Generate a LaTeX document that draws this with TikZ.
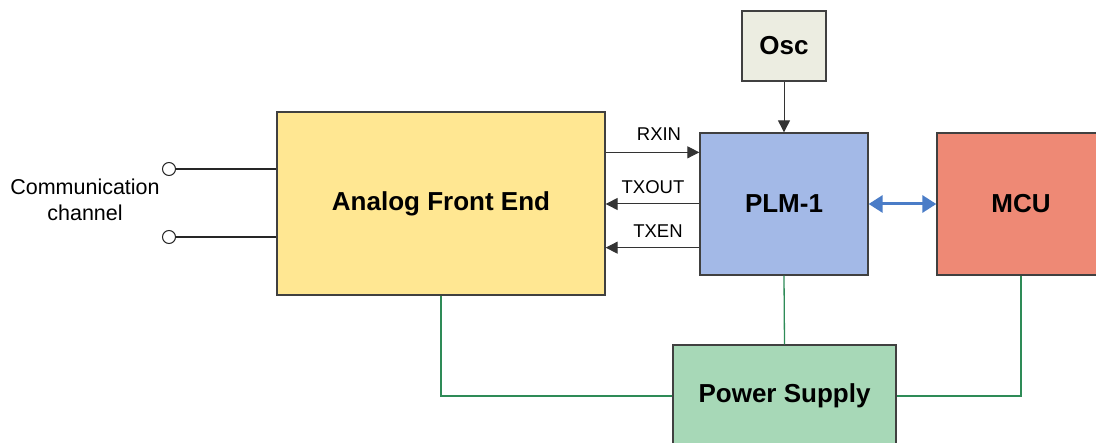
\documentclass[tikz,border=0pt]{standalone}
\usepackage{fontspec}
\setmainfont{Liberation Sans}
\usetikzlibrary{arrows.meta,calc}
\definecolor{afefill}{HTML}{FFE792}
\definecolor{plmfill}{HTML}{A3B9E7}
\definecolor{mcufill}{HTML}{EE8975}
\definecolor{oscfill}{HTML}{ECEDE1}
\definecolor{psfill}{HTML}{A7D8B7}
\definecolor{pwrline}{HTML}{2E8B57}
\definecolor{linkblue}{HTML}{4A7CC7}
\definecolor{boxedge}{HTML}{404040}
\tikzset{
  block/.style={draw=boxedge, line width=1.3pt, inner sep=0pt, anchor=center,
    font=\fontsize{26}{30}\selectfont\bfseries},
  sig/.style={draw=black!80, line width=1pt, -{Triangle[length=12pt,width=12pt]}},
  siglabel/.style={font=\fontsize{18.5}{22}\selectfont, inner sep=0pt},
  pwr/.style={draw=pwrline, line width=1.3pt},
  term/.style={circle, draw=black!85, fill=white, line width=1pt, minimum size=13pt, inner sep=0pt},
  wire/.style={draw=black!85, line width=2pt},
  busarrow/.style={draw=linkblue, line width=3pt,
    {Triangle[length=14pt,width=17pt]}-{Triangle[length=14pt,width=17pt]}},
}
\begin{document}
\begin{tikzpicture}[x=1pt,y=-1pt]
\useasboundingbox (0,0) rectangle (1096,443);
\clip (0,0) rectangle (1096,443);

% functional blocks
\node[block, fill=afefill, minimum width=328pt, minimum height=183pt] (afe) at (441,203.5) {Analog Front End};
\node[block, fill=plmfill, minimum width=168pt, minimum height=142pt] (plm) at (784,204) {PLM-1};
\node[block, fill=mcufill, minimum width=168pt, minimum height=142pt] (mcu) at (1021,204) {MCU};
\node[block, fill=oscfill, minimum width=84pt, minimum height=70pt] (osc) at (784,46) {Osc};
\node[block, fill=psfill, minimum width=223pt, minimum height=102pt] (ps) at (784.5,396) {Power Supply};

% line terminals
\node[term] (t1) at (169,169) {};
\node[term] (t2) at (169,237) {};
\node[font=\fontsize{21.5}{26}\selectfont, align=center, inner sep=0pt] (chan) at (85,200) {Communication\\channel};
\draw[wire] (t1.east) -- (afe.west |- t1);
\draw[wire] (t2.east) -- (afe.west |- t2);

% clock
\draw[sig] (osc.south) -- (plm.north);

% signals between AFE and PLM-1
\coordinate (rx) at ([yshift=-20pt]plm.north west);
\coordinate (txen) at ([yshift=28pt]plm.south west);
\draw[sig] (afe.east |- rx) -- (rx);
\draw[sig] (plm.west) -- (afe.east |- plm.west);
\draw[sig] (txen) -- (afe.east |- txen);
\node[siglabel] (lrx) at (659,134) {RXIN};
\node[siglabel] (ltxo) at (653,187) {TXOUT};
\node[siglabel] (ltxe) at (658,231) {TXEN};

% host interface
\draw[busarrow] (plm.east) -- (mcu.west);

% supply rails
\draw[pwr] (afe.south) |- (ps.west);
\draw[pwr] (plm.south) -- (ps.north);
\draw[pwr] (mcu.south) |- (ps.east);
\end{tikzpicture}
\end{document}
